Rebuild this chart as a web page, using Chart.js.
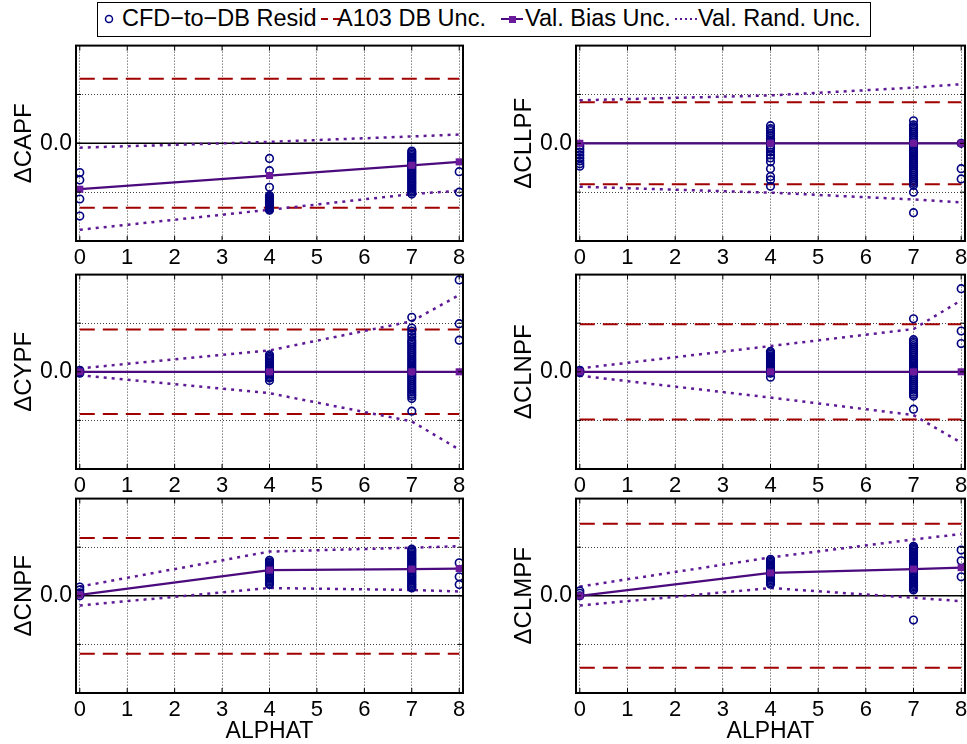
<!DOCTYPE html>
<html>
<head>
<meta charset="utf-8">
<script src="https://cdn.jsdelivr.net/npm/chart.js@4.4.0/dist/chart.umd.min.js"></script>
<style>
  html, body { margin: 0; padding: 0; background: #fff; overflow: hidden; width: 967px; height: 744px; }
  body { position: relative; font-family: "Liberation Sans", Arial, Helvetica, sans-serif; }
  canvas { position: absolute; }
  #legend { position: absolute; left: 97px; top: 2px; width: 772px; height: 33px; border: 1px solid #000; background: #fff; }
  #legend span { position: absolute; top: 2px; font-size: 23.5px; line-height: 27px; white-space: nowrap; color: #000; }
  #legend svg { position: absolute; left: 0; top: 0; }
</style>
</head>
<body>
<div id="legend">
  <svg width="772" height="33">
    <circle cx="11" cy="16" r="3.5" fill="none" stroke="#00007f" stroke-width="1.5"/>
    <line x1="223" y1="16" x2="243" y2="16" stroke="#a10000" stroke-width="2" stroke-dasharray="7,5"/>
    <line x1="403" y1="16" x2="425" y2="16" stroke="#4b0a7d" stroke-width="2"/>
    <rect x="411" y="13" width="7" height="7" fill="#6a1a9a"/>
    <line x1="577" y1="16" x2="599" y2="16" stroke="#5e1a96" stroke-width="2" stroke-dasharray="2,3"/>
  </svg>
  <span style="left:24px">CFD−to−DB Resid</span>
  <span style="left:239px">A103 DB Unc.</span>
  <span style="left:427px">Val. Bias Unc.</span>
  <span style="left:600px">Val. Rand. Unc.</span>
</div>
<canvas id="c1" width="480" height="229" style="left:0;top:40px"></canvas>
<canvas id="c2" width="490" height="229" style="left:485px;top:40px"></canvas>
<canvas id="c3" width="480" height="228" style="left:0;top:269px"></canvas>
<canvas id="c4" width="490" height="228" style="left:485px;top:269px"></canvas>
<canvas id="c5" width="480" height="252" style="left:0;top:493px"></canvas>
<canvas id="c6" width="490" height="252" style="left:485px;top:493px"></canvas>
<script>
// angles of attack where data exist
const alphat = [0, 4, 7, 8];
const xTicks = [0, 1, 2, 3, 4, 5, 6, 7, 8];
const yTicks = [-1, 0, 1];

// ΔCAPF  (residuals grouped per alphat)
const capfResid = [
  [-0.60, -0.75, -1.14, -1.49],
  [-0.31, -0.56, -0.90, -1.07, -1.09, -1.11, -1.13, -1.15, -1.17, -1.19, -1.21, -1.23, -1.25, -1.27, -1.29, -1.31, -1.33, -1.35, -1.37],
  [-0.16, -0.19, -0.22, -0.25, -0.28, -0.31, -0.34, -0.37, -0.40, -0.43, -0.46, -0.49, -0.52, -0.55, -0.58, -0.61, -0.64, -0.67, -0.70, -0.73, -0.76, -0.79, -0.82, -0.85, -0.88, -0.91, -0.94, -0.97, -1.00, -1.04],
  [-0.58, -1.00]
];
const capfDB = 1.32;
const capfBias = [-0.94, -0.66, -0.45, -0.38];
const capfRandHi = [-0.09, 0.03, 0.14, 0.18];
const capfRandLo = [-1.77, -1.36, -1.04, -0.97];

// ΔCLLPF
const cllpfResid = [
  [-0.06, -0.12, -0.18, -0.24, -0.30, -0.36, -0.42, -0.47],
  [0.36, 0.30, 0.26, 0.20, 0.16, 0.10, 0.06, 0.02, -0.04, -0.08, -0.12, -0.18, -0.24, -0.30, -0.38, -0.52, -0.68, -0.75, -0.88],
  [0.46, 0.38, 0.34, 0.30, 0.26, 0.22, 0.18, 0.14, 0.10, 0.06, 0.02, -0.02, -0.06, -0.10, -0.14, -0.18, -0.22, -0.26, -0.30, -0.34, -0.38, -0.42, -0.46, -0.50, -0.54, -0.58, -0.62, -0.66, -0.70, -0.74, -0.78, -0.82, -0.86, -1.00, -1.42],
  [0.00, -0.52, -0.73]
];
const cllpfDB = 0.84;
const cllpfBias = [0, 0, 0, 0];
const cllpfRandHi = [0.88, 0.98, 1.14, 1.21];
const cllpfRandLo = [-0.89, -1.01, -1.15, -1.21];

// ΔCYPF
const cypfResid = [
  [0.03, 0.00, -0.03],
  [0.35, 0.32, 0.29, 0.26, 0.23, 0.20, 0.17, 0.14, 0.11, 0.08, 0.05, 0.02, -0.01, -0.04, -0.07, -0.10, -0.13, -0.18],
  [1.12, 0.90, 0.84, 0.78, 0.72, 0.66, 0.62, 0.58, 0.54, 0.50, 0.46, 0.42, 0.38, 0.34, 0.30, 0.26, 0.22, 0.18, 0.14, 0.10, 0.06, 0.02, -0.02, -0.06, -0.10, -0.14, -0.18, -0.22, -0.26, -0.30, -0.34, -0.38, -0.42, -0.46, -0.50, -0.55, -0.81],
  [1.89, 0.99, 0.65]
];
const cypfDB = 0.87;
const cypfBias = [0, 0, 0, 0];
const cypfRandHi = [0.07, 0.44, 1.04, 1.58];
const cypfRandLo = [-0.07, -0.44, -1.02, -1.60];

// ΔCLNPF
const clnpfResid = [
  [0.03, 0.00, -0.02],
  [0.42, 0.39, 0.36, 0.33, 0.30, 0.27, 0.24, 0.21, 0.18, 0.15, 0.12, 0.09, 0.06, 0.03, 0.00, -0.03, -0.11],
  [1.09, 0.66, 0.62, 0.58, 0.54, 0.50, 0.46, 0.42, 0.38, 0.34, 0.30, 0.26, 0.22, 0.18, 0.14, 0.10, 0.06, 0.02, -0.02, -0.06, -0.10, -0.14, -0.18, -0.22, -0.26, -0.30, -0.34, -0.38, -0.42, -0.46, -0.50, -0.77],
  [1.71, 0.84, 0.58]
];
const clnpfDB = 0.98;
const clnpfBias = [0, 0, 0, 0];
const clnpfRandHi = [0.07, 0.53, 0.88, 1.47];
const clnpfRandLo = [-0.08, -0.53, -0.89, -1.46];

// ΔCNPF
const cnpfResid = [
  [0.18, 0.12, 0.06, 0.00],
  [0.73, 0.70, 0.67, 0.64, 0.61, 0.58, 0.55, 0.52, 0.49, 0.46, 0.43, 0.40, 0.37, 0.34, 0.31, 0.28, 0.25, 0.23],
  [0.96, 0.93, 0.90, 0.87, 0.84, 0.81, 0.78, 0.75, 0.72, 0.69, 0.66, 0.63, 0.60, 0.57, 0.54, 0.51, 0.48, 0.45, 0.42, 0.39, 0.36, 0.33, 0.30, 0.27, 0.24, 0.21, 0.18, 0.16],
  [0.68, 0.39, 0.23]
];
const cnpfDB = 1.19;
const cnpfBias = [0.02, 0.53, 0.55, 0.56];
const cnpfRandHi = [0.19, 0.91, 0.99, 1.02];
const cnpfRandLo = [-0.20, 0.16, 0.12, 0.09];

// ΔCLMPF
const clmpfResid = [
  [0.10, 0.05, 0.00],
  [0.75, 0.72, 0.69, 0.66, 0.63, 0.60, 0.57, 0.54, 0.51, 0.48, 0.45, 0.42, 0.39, 0.36, 0.33, 0.30, 0.27, 0.24],
  [1.02, 0.99, 0.96, 0.93, 0.90, 0.87, 0.84, 0.81, 0.78, 0.75, 0.72, 0.69, 0.66, 0.63, 0.60, 0.57, 0.54, 0.51, 0.48, 0.45, 0.42, 0.39, 0.36, 0.33, 0.30, 0.27, 0.24, 0.21, 0.18, 0.15, 0.12, -0.50],
  [0.94, 0.72, 0.39]
];
const clmpfDB = 1.48;
const clmpfBias = [0, 0.47, 0.55, 0.58];
const clmpfRandHi = [0.19, 0.79, 1.16, 1.27];
const clmpfRandLo = [-0.20, 0.16, -0.04, -0.11];

const FONT = '"Liberation Sans", Arial, Helvetica, sans-serif';
const NAVY = '#00007f';
const RED = '#a10000';
const BIAS = '#4b0a7d';
const BIAS_PT = '#6a1a9a';
const RAND = '#5e1a96';

// frame box, inward ticks and the solid zero line
const framePlugin = {
  id: 'frame',
  beforeDatasetsDraw(chart) {
    const { ctx, chartArea: a, scales } = chart;
    const y0 = scales.y.getPixelForValue(0);
    ctx.save();
    ctx.strokeStyle = '#000';
    ctx.lineWidth = 1.5;
    ctx.beginPath();
    ctx.moveTo(a.left, y0);
    ctx.lineTo(a.right, y0);
    ctx.stroke();
    ctx.restore();
  },
  afterDraw(chart) {
    const { ctx, chartArea: a, scales } = chart;
    ctx.save();
    ctx.strokeStyle = '#000';
    ctx.lineWidth = 2;
    ctx.strokeRect(a.left, a.top, a.right - a.left, a.bottom - a.top);
    ctx.lineWidth = 1;
    ctx.beginPath();
    xTicks.forEach(v => {
      const px = scales.x.getPixelForValue(v);
      ctx.moveTo(px, a.bottom); ctx.lineTo(px, a.bottom - 5);
      ctx.moveTo(px, a.top); ctx.lineTo(px, a.top + 5);
    });
    yTicks.forEach(v => {
      const py = scales.y.getPixelForValue(v);
      ctx.moveTo(a.left, py); ctx.lineTo(a.left + 5, py);
      ctx.moveTo(a.right, py); ctx.lineTo(a.right - 5, py);
    });
    ctx.stroke();
    ctx.restore();
  }
};

function makePanel(id, name, resid, db, bias, randHi, randLo, opt) {
  const pts = [];
  alphat.forEach((a, i) => resid[i].forEach(v => pts.push({ x: a, y: v })));
  const line = vals => alphat.map((a, i) => ({ x: a, y: vals[i] }));
  const flat = v => [{ x: alphat[0], y: v }, { x: alphat[alphat.length - 1], y: v }];

  new Chart(document.getElementById(id), {
    type: 'scatter',
    data: {
      datasets: [
        {
          label: 'Val. Bias Unc.', data: line(bias), showLine: true,
          borderColor: BIAS, borderWidth: 2.2, pointStyle: 'rect', pointRadius: 5,
          pointBackgroundColor: BIAS_PT, pointBorderColor: BIAS_PT, pointBorderWidth: 0
        },
        {
          label: 'CFD-to-DB Resid', data: pts, pointStyle: 'circle', pointRadius: 3.8,
          pointBorderWidth: 1.6, pointBorderColor: NAVY, pointBackgroundColor: 'rgba(0,0,0,0)'
        },
        {
          label: 'Val. Rand. Unc.', data: line(randHi), showLine: true, pointRadius: 0,
          borderColor: RAND, borderWidth: 2.5, borderDash: [3, 5]
        },
        {
          label: 'Val. Rand. Unc. lo', data: line(randLo), showLine: true, pointRadius: 0,
          borderColor: RAND, borderWidth: 2.5, borderDash: [3, 5]
        },
        {
          label: 'A103 DB Unc.', data: flat(db), showLine: true, pointRadius: 0,
          borderColor: RED, borderWidth: 2, borderDash: [15, 8]
        },
        {
          label: 'A103 DB Unc. lo', data: flat(-db), showLine: true, pointRadius: 0,
          borderColor: RED, borderWidth: 2, borderDash: [15, 8]
        }
      ]
    },
    options: {
      responsive: false,
      animation: false,
      devicePixelRatio: 1,
      clip: false,
      layout: { padding: { top: 4, right: opt.padRight, left: 0, bottom: 0 } },
      plugins: { legend: { display: false }, tooltip: { enabled: false } },
      scales: {
        x: {
          type: 'linear', min: -0.08, max: 8.08,
          afterBuildTicks: s => { s.ticks = xTicks.map(v => ({ value: v })); },
          afterFit: s => { s.height = opt.xHeight; s.paddingLeft = 0; s.paddingRight = 0; },
          grid: { color: 'rgba(0,0,0,0.75)', lineWidth: 1, drawTicks: false },
          border: { display: false, dash: [1, 2] },
          ticks: { color: '#000', font: { family: FONT, size: 22 }, padding: 4, maxRotation: 0 },
          title: { display: opt.showX, text: 'ALPHAT', color: '#000', font: { family: FONT, size: 23 }, padding: { top: 0, bottom: 0 } }
        },
        y: {
          type: 'linear', min: -2, max: 2,
          afterBuildTicks: s => { s.ticks = yTicks.map(v => ({ value: v })); },
          afterFit: s => { s.width = opt.yWidth; s.paddingTop = 0; s.paddingBottom = 0; },
          grid: { color: 'rgba(0,0,0,0.75)', lineWidth: 1, drawTicks: false },
          border: { display: false, dash: [1, 2] },
          ticks: { color: '#000', font: { family: FONT, size: 23 }, padding: 4, callback: v => (v === 0 ? '0.0' : '') },
          title: { display: true, text: name, color: '#000', font: { family: FONT, size: 24 }, padding: { top: opt.titlePad, bottom: 0 } }
        }
      }
    },
    plugins: [framePlugin]
  });
}

const leftCol = { padRight: 17, yWidth: 76, titlePad: 10 };
const rightCol = { padRight: 10, yWidth: 91, titlePad: 25 };

makePanel('c1', 'ΔCAPF', capfResid, capfDB, capfBias, capfRandHi, capfRandLo, { ...leftCol, xHeight: 28, showX: false });
makePanel('c2', 'ΔCLLPF', cllpfResid, cllpfDB, cllpfBias, cllpfRandHi, cllpfRandLo, { ...rightCol, xHeight: 28, showX: false });
makePanel('c3', 'ΔCYPF', cypfResid, cypfDB, cypfBias, cypfRandHi, cypfRandLo, { ...leftCol, xHeight: 28, showX: false });
makePanel('c4', 'ΔCLNPF', clnpfResid, clnpfDB, clnpfBias, clnpfRandHi, clnpfRandLo, { ...rightCol, xHeight: 28, showX: false });
makePanel('c5', 'ΔCNPF', cnpfResid, cnpfDB, cnpfBias, cnpfRandHi, cnpfRandLo, { ...leftCol, xHeight: 52, showX: true });
makePanel('c6', 'ΔCLMPF', clmpfResid, clmpfDB, clmpfBias, clmpfRandHi, clmpfRandLo, { ...rightCol, xHeight: 52, showX: true });
</script>
</body>
</html>
